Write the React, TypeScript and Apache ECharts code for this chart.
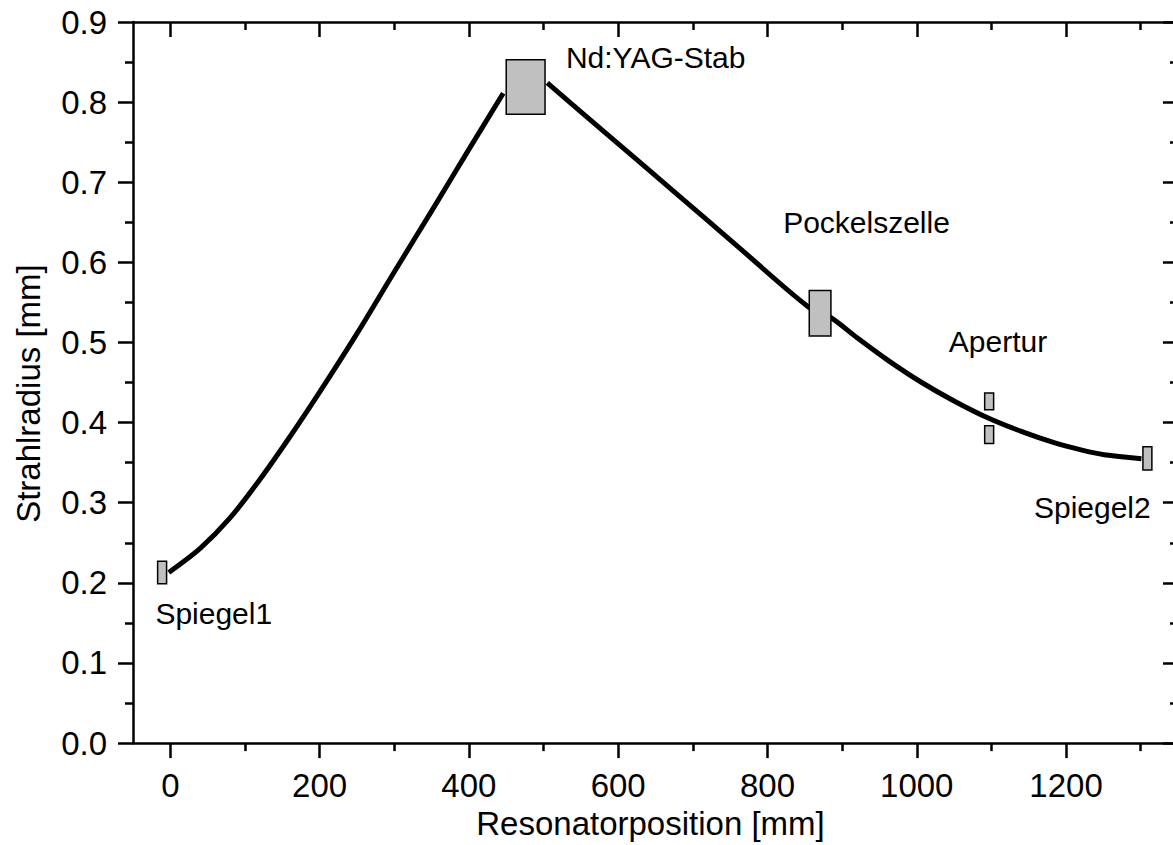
import React, { useEffect, useRef } from "react";
import * as echarts from "echarts";

const FONT = "'Liberation Sans', Arial, Helvetica, sans-serif";

// Axis ticks
const xMajorTicks = [0, 200, 400, 600, 800, 1000, 1200];
const xMinorTicks = [100, 300, 500, 700, 900, 1100, 1300];
const xMin = -50;
const xMax = 1350;
const yMin = 0;
const yMax = 0.9;
const yStep = 0.1;

// Beam radius curve (mm), left of the Nd:YAG rod
const beamLeftX = [-2, 40, 80, 120, 160, 200, 250, 300, 350, 400, 446];
const beamLeftY = [0.213, 0.243, 0.281, 0.329, 0.382, 0.438, 0.511, 0.588, 0.664, 0.741, 0.811];

// Beam radius curve (mm), right of the Nd:YAG rod
const beamRightX = [505, 590, 674, 760, 854, 885, 920, 961, 1005, 1050, 1095, 1140, 1184, 1220, 1251, 1301];
const beamRightY = [0.824, 0.756, 0.689, 0.620, 0.545, 0.531, 0.506, 0.478, 0.451, 0.427, 0.406, 0.389, 0.375, 0.366, 0.360, 0.355];

// Optical elements (boxes): x from/to, y from/to
const elementX0 = [-17, 450, 856, 1091, 1091, 1303];
const elementX1 = [-5, 502, 885, 1103, 1103, 1315];
const elementY0 = [0.199, 0.785, 0.508, 0.416, 0.374, 0.341];
const elementY1 = [0.227, 0.853, 0.565, 0.437, 0.396, 0.370];

// Annotation texts (left edge, vertical middle)
const labelTexts = ["Spiegel1", "Nd:YAG-Stab", "Pockelszelle", "Apertur", "Spiegel2"];
const labelX = [-20, 530, 821, 1043, 1157];
const labelY = [0.162, 0.856, 0.650, 0.501, 0.294];

export default function App() {
  const ref = useRef<HTMLDivElement>(null);

  useEffect(() => {
    if (!ref.current) return;
    const chart = echarts.init(ref.current, undefined, { renderer: "svg" });

    const leftData = beamLeftX.map((x, i) => [x, beamLeftY[i]]);
    const rightData = beamRightX.map((x, i) => [x, beamRightY[i]]);
    const boxData = elementX0.map((x, i) => [x, elementX1[i], elementY0[i], elementY1[i]]);
    const labelData = labelX.map((x, i) => [x, labelY[i]]);

    const lw = 2.5;
    const axisLineStyle = { color: "#000", width: lw };
    const tickStyle = { color: "#000", width: lw };
    const baseX = {
      type: "value",
      min: xMin,
      max: xMax,
      splitLine: { show: false },
      axisLine: { show: true, onZero: false, lineStyle: axisLineStyle },
    };

    const lineSeries = (data: number[][]) => ({
      type: "line",
      xAxisIndex: 0,
      yAxisIndex: 0,
      data,
      smooth: 0.3,
      showSymbol: false,
      symbol: "none",
      lineStyle: { color: "#000", width: 5 },
      z: 2,
    });

    const option: any = {
      animation: false,
      backgroundColor: "#fff",
      grid: { left: 133, right: 7, top: 22, bottom: 101, containLabel: false },
      xAxis: [
        {
          ...baseX,
          position: "bottom",
          name: "Resonatorposition [mm]",
          nameLocation: "middle",
          nameGap: 63,
          nameTextStyle: { fontSize: 33, fontFamily: FONT, color: "#000", padding: [0, 10, 0, 0] },
          axisTick: { show: true, length: 15, inside: false, customValues: xMajorTicks, lineStyle: tickStyle },
          axisLabel: {
            show: true,
            customValues: xMajorTicks,
            margin: 26,
            fontSize: 33,
            fontFamily: FONT,
            color: "#000",
            formatter: (v: number) => String(v),
          },
        },
        {
          ...baseX,
          position: "bottom",
          axisLine: { show: false, onZero: false },
          axisTick: { show: true, length: 8, inside: false, customValues: xMinorTicks, lineStyle: tickStyle },
          axisLabel: { show: false },
        },
        {
          ...baseX,
          position: "top",
          axisTick: { show: true, length: 15, inside: true, customValues: xMajorTicks, lineStyle: tickStyle },
          axisLabel: { show: false },
        },
        {
          ...baseX,
          position: "top",
          axisLine: { show: false, onZero: false },
          axisTick: { show: true, length: 8, inside: true, customValues: xMinorTicks, lineStyle: tickStyle },
          axisLabel: { show: false },
        },
      ],
      yAxis: [
        {
          type: "value",
          position: "left",
          min: yMin,
          max: yMax,
          interval: yStep,
          name: "Strahlradius [mm]",
          nameLocation: "middle",
          nameGap: 88,
          nameTextStyle: { fontSize: 33, fontFamily: FONT, color: "#000", padding: [0, 22, 0, 0] },
          splitLine: { show: false },
          axisLine: { show: true, onZero: false, lineStyle: axisLineStyle },
          axisTick: { show: true, length: 15, inside: false, lineStyle: tickStyle },
          minorTick: { show: true, splitNumber: 2, length: 8, lineStyle: tickStyle },
          minorSplitLine: { show: false },
          axisLabel: {
            show: true,
            margin: 26,
            fontSize: 33,
            fontFamily: FONT,
            color: "#000",
            formatter: (v: number) => v.toFixed(1),
          },
        },
        {
          type: "value",
          position: "right",
          min: yMin,
          max: yMax,
          interval: yStep,
          splitLine: { show: false },
          axisLine: { show: true, onZero: false, lineStyle: axisLineStyle },
          axisTick: { show: true, length: 15, inside: true, lineStyle: tickStyle },
          minorTick: { show: true, splitNumber: 2, length: 8, lineStyle: tickStyle },
          minorSplitLine: { show: false },
          axisLabel: { show: false },
        },
      ],
      series: [
        lineSeries(leftData),
        lineSeries(rightData),
        {
          type: "custom",
          xAxisIndex: 0,
          yAxisIndex: 0,
          clip: false,
          z: 3,
          encode: { x: [0, 1], y: [2, 3] },
          data: boxData,
          renderItem: (params: any, api: any) => {
            const p0 = api.coord([api.value(0), api.value(3)]);
            const p1 = api.coord([api.value(1), api.value(2)]);
            return {
              type: "rect",
              shape: { x: p0[0], y: p0[1], width: p1[0] - p0[0], height: p1[1] - p0[1] },
              style: { fill: "#c0c0c0", stroke: "#000", lineWidth: 1.5 },
            };
          },
        },
        {
          type: "custom",
          xAxisIndex: 0,
          yAxisIndex: 0,
          clip: false,
          z: 4,
          encode: { x: 0, y: 1 },
          data: labelData,
          renderItem: (params: any, api: any) => {
            const p = api.coord([api.value(0), api.value(1)]);
            return {
              type: "text",
              x: p[0],
              y: p[1],
              style: {
                text: labelTexts[params.dataIndex],
                fill: "#000",
                fontSize: 30,
                fontFamily: FONT,
                align: "left",
                verticalAlign: "middle",
              },
            };
          },
        },
      ],
    };

    chart.setOption(option);
    return () => chart.dispose();
  }, []);

  return (
    <div style={{ position: "absolute", left: 0, top: 0, width: 1173, height: 845, overflow: "hidden", background: "#fff" }}>
      <div ref={ref} style={{ width: 1185, height: 845 }} />
    </div>
  );
}
